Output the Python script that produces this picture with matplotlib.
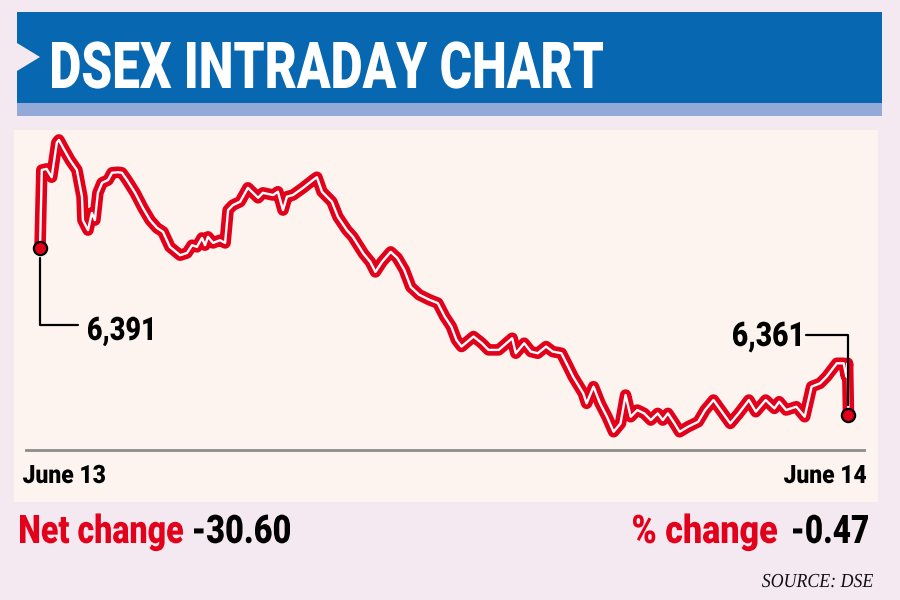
import matplotlib
matplotlib.use('Agg')
import matplotlib.pyplot as plt
from matplotlib.patches import Rectangle, Polygon, PathPatch
from matplotlib.textpath import TextPath
from matplotlib.font_manager import FontProperties
from matplotlib.transforms import Affine2D

# minutes after market open, DSEX index value
minutes = [0, 0.6, 2.2, 3.9, 5.6, 6.3, 7.7, 10, 12.3, 14, 14.3, 16, 17.3, 18.3,
           19.3, 20.7, 22.7, 24, 26, 27.3, 29, 31.7, 34.3, 36.7, 39, 41, 43.3,
           46.7, 49, 50.7, 52.3, 54, 55, 56, 57.7, 60, 61.7, 62.7, 64.3, 66.7,
           69.3, 71, 72.7, 74.3, 77.7, 79.3, 81, 82.3, 84.3, 87.7, 91, 92.3, 94,
           97.3, 99.3, 102.3, 104.3, 107.8, 110.1, 111.8, 114.0, 116.9, 119.1,
           121.4, 123.6, 126.4, 129.8, 132.6, 134.9, 137.1, 138.8, 140.5, 144.5,
           147.3, 149.5, 152.9, 157.4, 158.6, 161.4, 163.6, 165.9, 168.7, 170.9,
           173.8, 175.5, 177.7, 181.1, 182.2, 184.5, 186.7, 189.0, 191.2, 193.5,
           195.2, 196.9, 199.1, 201.4, 203.6, 205.9, 207.6, 209.3, 211.5, 213.2,
           216.0, 219.4, 221.7, 224.5, 227.3, 230.1, 232.9, 236.3, 238.6, 241.9,
           244.8, 246.4, 248.7, 252.1, 254.9, 257.2, 260.0, 262.2, 265.6, 267.9,
           268.8, 269.2, 269.5]
dsex = [6391.0, 6405.0, 6405.2, 6403.7, 6409.9, 6410.4, 6409.0, 6406.8, 6405.0,
        6400.2, 6396.0, 6394.2, 6397.3, 6396.0, 6400.9, 6402.7, 6403.2, 6404.5,
        6404.6, 6404.5, 6403.2, 6400.9, 6398.2, 6396.0, 6394.6, 6393.9, 6391.2,
        6389.7, 6390.1, 6391.5, 6391.2, 6392.8, 6391.5, 6393.0, 6391.9, 6392.4,
        6391.9, 6397.8, 6398.7, 6399.3, 6401.8, 6400.9, 6400.0, 6400.9, 6400.5,
        6401.1, 6397.8, 6400.2, 6400.5, 6401.8, 6403.2, 6403.7, 6401.1, 6399.3,
        6396.6, 6394.2, 6393.0, 6390.0, 6388.5, 6386.7, 6388.5, 6390.3, 6389.2,
        6387.1, 6384.0, 6382.6, 6381.7, 6381.1, 6378.7, 6376.9, 6374.5, 6373.3,
        6375.1, 6373.9, 6372.7, 6372.7, 6374.8, 6372.1, 6373.9, 6372.4, 6372.1,
        6373.3, 6372.4, 6372.1, 6370.3, 6367.9, 6364.9, 6363.1, 6366.1, 6363.1,
        6360.7, 6358.0, 6359.5, 6364.6, 6360.7, 6361.9, 6361.3, 6360.1, 6361.3,
        6360.1, 6361.3, 6359.5, 6358.0, 6358.9, 6359.8, 6361.9, 6363.7, 6361.6,
        6359.5, 6361.3, 6363.7, 6361.6, 6363.7, 6362.2, 6363.4, 6361.9, 6362.5,
        6360.7, 6366.1, 6366.7, 6367.9, 6370.3, 6370.3, 6367.9, 6370.3, 6361.0]

open_label = "6,391"
close_label = "6,361"
day_labels = ["June 13", "June 14"]
net_change = "-30.60"
pct_change = "-0.47"

RED = '#e2001a'
BLUE = '#0767b1'
BG = '#f5e9f1'
bold = FontProperties(family='Roboto', weight=900)
serif_it = FontProperties(family='Liberation Serif', style='italic')

fig = plt.figure(figsize=(9, 6), dpi=100, facecolor=BG)

# background layer in pixel units
bg = fig.add_axes([0, 0, 1, 1], zorder=0)
bg.set_xlim(0, 900)
bg.set_ylim(600, 0)
bg.axis('off')


def squeeze_text(s, x0, x1, top, base, color='black', fp=bold):
    # text drawn as a path, squeezed to fit a box (condensed look)
    tp = TextPath((0, 0), s, size=100, prop=fp)
    cap = TextPath((0, 0), 'H', size=100, prop=fp).get_extents().height
    ext = tp.get_extents()
    sx = (x1 - x0) / ext.width
    sy = (base - top) / cap
    tr = Affine2D().translate(-ext.x0, 0).scale(sx, -sy).translate(x0, base)
    bg.add_patch(PathPatch(tr.transform_path(tp), fc=color, lw=0, zorder=3))


bg.add_patch(Rectangle((17, 12), 865, 91, color=BLUE, lw=0))
bg.add_patch(Rectangle((17, 103), 865, 13, color='#93aad8', lw=0))
bg.add_patch(Polygon([(17, 43), (40, 57), (17, 71)], color=BG, lw=0))
bg.add_patch(Rectangle((14, 130), 864, 372, color='#fdf4f0', lw=0))

squeeze_text("DSEX INTRADAY CHART", 52, 603, 42, 88, 'white')
squeeze_text(day_labels[0], 23, 105, 465, 483)
squeeze_text(day_labels[1], 784, 866, 465, 483)
squeeze_text("Net change", 20, 183, 515, 543, RED)
squeeze_text(net_change, 194, 290, 515, 543)
squeeze_text("% change", 633, 777, 515, 543, RED)
squeeze_text(pct_change, 793, 868, 515, 543)
squeeze_text("SOURCE: DSE", 762, 873, 574, 587, '#111111', serif_it)
squeeze_text(open_label, 88, 152, 317, 340)
squeeze_text(close_label, 733, 800, 322, 346)

# chart
ax = fig.add_axes([26 / 900, 0.25, 838 / 900, 320 / 600], zorder=2)
ax.patch.set_alpha(0)
ax.set_xlim(-14 / 3, 824 / 3)
ax.set_ylim(6354.73, 6412.18)
for s in ['top', 'left', 'right']:
    ax.spines[s].set_visible(False)
ax.spines['bottom'].set_color('#8c8c8c')
ax.spines['bottom'].set_linewidth(2)
ax.set_xticks([])
ax.set_yticks([])

ax.plot(minutes, dsex, color=RED, lw=8.3, solid_joinstyle='round',
        solid_capstyle='round')
ax.plot(minutes, dsex, color='white', lw=1.7, solid_joinstyle='round')
ax.plot([minutes[0], minutes[-1]], [dsex[0], dsex[-1]], 'o', ms=9.5,
        mfc=RED, mec='black', mew=1.6, zorder=5)

# leader lines to the labels
conn = 'angle,angleA=0,angleB=90,rad=0'
ax.annotate('', xy=(minutes[0], dsex[0]), xytext=(38, -77),
            textcoords='offset pixels',
            arrowprops=dict(arrowstyle='-', connectionstyle=conn,
                            shrinkA=0, shrinkB=7, lw=1.6, color='black'))
ax.annotate('', xy=(minutes[-1], dsex[-1]), xytext=(-42, 80),
            textcoords='offset pixels',
            arrowprops=dict(arrowstyle='-', connectionstyle=conn,
                            shrinkA=0, shrinkB=7, lw=1.6, color='black'))

fig.savefig('out.png', dpi=100, facecolor=fig.get_facecolor())
